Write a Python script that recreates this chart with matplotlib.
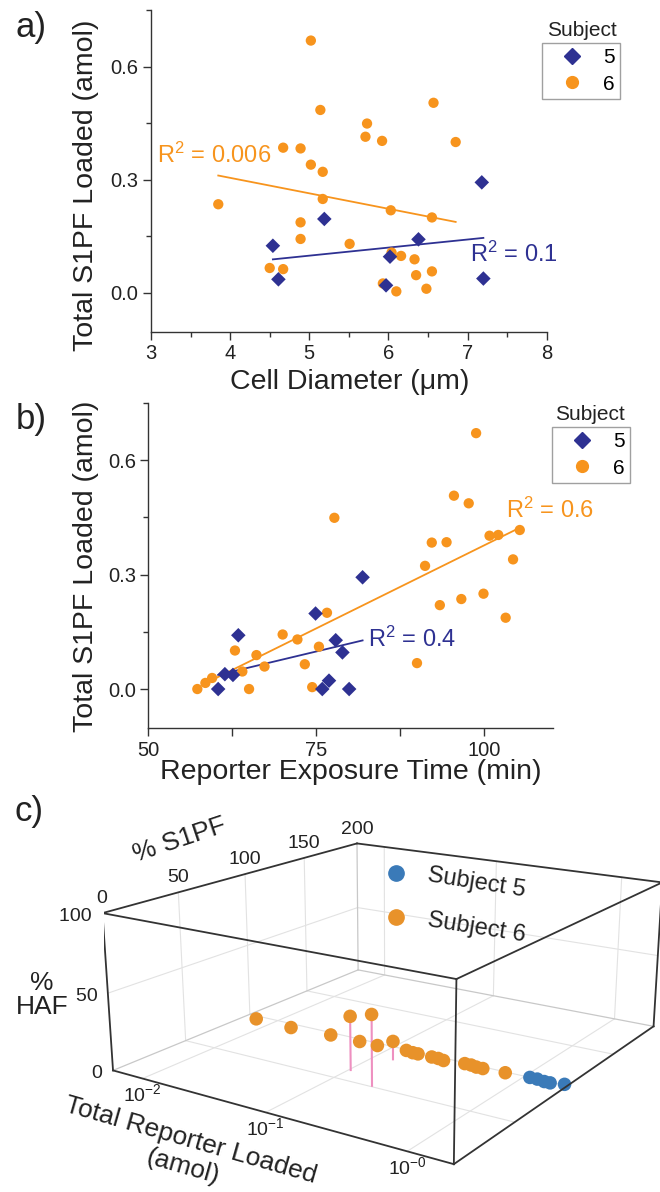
import numpy as np
import matplotlib
matplotlib.use('Agg')
import matplotlib.pyplot as plt
from matplotlib.lines import Line2D
from matplotlib.ticker import MultipleLocator
from mpl_toolkits.mplot3d import proj3d

plt.rcParams['font.family'] = ['Liberation Sans', 'DejaVu Sans']
plt.rcParams['mathtext.fontset'] = 'custom'
plt.rcParams['mathtext.rm'] = 'Liberation Sans'
plt.rcParams['mathtext.it'] = 'Liberation Sans:italic'
plt.rcParams['mathtext.default'] = 'regular'

orange = '#F7941D'
navy = '#2E3192'
blue_c = '#3A7AB8'
orange_c = '#E8922A'
stem_c = '#EE90C0'

## panel a: cell diameter (um) vs total S1PF loaded (amol)
diam_s5 = [4.54, 4.61, 5.19, 6.02, 5.97, 6.38, 7.18, 7.20]
s1pf_a_s5 = [0.125, 0.036, 0.196, 0.096, 0.020, 0.142, 0.293, 0.038]
diam_s6 = [5.02, 5.14, 5.73, 5.71, 5.92, 6.57, 6.85, 4.67, 4.89, 5.02, 5.17, 3.85, 5.17, 6.03,
           6.55, 4.89, 4.89, 5.51, 6.04, 6.16, 6.33, 4.50, 4.67, 6.35, 6.55, 5.93, 6.10, 6.48]
s1pf_a_s6 = [0.669, 0.485, 0.449, 0.414, 0.403, 0.504, 0.400, 0.385, 0.383, 0.340, 0.321, 0.235, 0.249, 0.219,
             0.200, 0.187, 0.143, 0.130, 0.107, 0.098, 0.089, 0.066, 0.063, 0.047, 0.057, 0.025, 0.004, 0.011]
# linear fits (slope, intercept) and their x ranges
fit_a_s5 = [0.0214, -0.0083]
fit_a_s5_x = [4.54, 7.20]
fit_a_s6 = [-0.041, 0.469]
fit_a_s6_x = [3.85, 6.85]
r2_a = ['R$^2$ = 0.1', 'R$^2$ = 0.006']

## panel b: reporter exposure time (min) vs total S1PF loaded (amol)
time_s5 = [63.4, 61.4, 62.6, 60.4, 74.9, 77.9, 78.9, 76.9, 75.9, 79.9, 81.9]
s1pf_b_s5 = [0.141, 0.039, 0.037, 0.000, 0.198, 0.128, 0.096, 0.022, 0.0, 0.0, 0.293]
time_s6 = [98.8, 95.5, 97.7, 77.7, 105.3, 100.8, 102.1, 92.2, 94.4, 91.2, 104.3, 99.9, 96.6, 93.4, 103.2,
           76.6, 70.0, 72.2, 75.4, 62.9, 66.1, 67.3, 73.3, 90.0, 64.0, 59.5, 58.5, 57.3, 65.0, 74.4]
s1pf_b_s6 = [0.671, 0.507, 0.487, 0.449, 0.417, 0.402, 0.404, 0.384, 0.385, 0.323, 0.340, 0.250, 0.236, 0.220, 0.187,
             0.200, 0.143, 0.130, 0.111, 0.101, 0.089, 0.059, 0.065, 0.068, 0.046, 0.029, 0.016, 0.000, 0.000, 0.005]
fit_b_s5 = [0.004206, -0.217]
fit_b_s5_x = [60.4, 81.9]
fit_b_s6 = [0.008714, -0.4946]
fit_b_s6_x = [60.0, 105.3]
r2_b = ['R$^2$ = 0.4', 'R$^2$ = 0.6']

## panel c: total reporter loaded (amol), % S1PF, % HAF
rep_s5 = [1.09, 1.23, 1.40, 1.54, 1.88]
pct_s1pf_s5 = [100, 100, 99, 99, 101]
pct_haf_s5 = [0, 0, 0, 0, 0]
rep_s6 = [0.0070, 0.0149, 0.0317, 0.103, 0.192, 0.135, 0.0558, 0.0783, 0.129, 0.148, 0.163, 0.209,
          0.235, 0.263, 0.368, 0.411, 0.458, 0.512, 0.736]
pct_s1pf_s6 = [96, 95, 97, 62, 51, 85, 97, 97, 99, 98, 98, 98, 98, 97, 99, 99, 98, 98, 99]
pct_haf_s6 = [0, 0, 0, 35, 45, 12, 0, 0, 0, 0, 0, 0, 0, 0, 0, 0, 0, 0, 0]
subjects_c = ['Subject 5', 'Subject 6']


fig = plt.figure(figsize=(6.6, 11.92), dpi=100)
fig.patch.set_facecolor('white')


def scatter_panel(ax, x5, y5, x6, y6, f5, f5x, f6, f6x):
	ax.scatter(x6, y6, s=55, marker='o', color=orange, edgecolors='none', zorder=3)
	ax.scatter(x5, y5, s=55, marker='D', color=navy, edgecolors='none', zorder=4)
	xx = np.array(f6x)
	ax.plot(xx, f6[0]*xx + f6[1], color=orange, lw=1.3, zorder=2)
	xx = np.array(f5x)
	ax.plot(xx, f5[0]*xx + f5[1], color=navy, lw=1.3, zorder=2)
	ax.spines['top'].set_visible(False)
	ax.spines['right'].set_visible(False)
	for s in ['left', 'bottom']:
		ax.spines[s].set_linewidth(1.0)
		ax.spines[s].set_color('#333333')
	ax.set_ylim(-0.103, 0.75)
	ax.set_yticks([0.0, 0.3, 0.6])
	ax.set_yticklabels(['0.0', '0.3', '0.6'])
	ax.yaxis.set_minor_locator(MultipleLocator(0.15))
	ax.tick_params(which='major', direction='out', length=6, width=1, labelsize=14.5, colors='#333333', pad=3)
	ax.tick_params(which='minor', direction='out', length=3.5, width=1, colors='#333333')
	for lab in ax.get_xticklabels() + ax.get_yticklabels():
		lab.set_color('#222222')
	h5 = Line2D([], [], ls='', marker='D', color=navy, ms=8)
	h6 = Line2D([], [], ls='', marker='o', color=orange, ms=8.5)
	leg = ax.legend([h5, h6], ['5', '6'], loc='upper left', bbox_to_anchor=(1.0, 0.0), frameon=True,
	                fancybox=False, fontsize=15, handlelength=2.4, handletextpad=0.3, borderpad=0.25,
	                labelspacing=0.35, borderaxespad=0)
	leg.get_frame().set_edgecolor('#888888')
	leg.get_frame().set_linewidth(1.0)
	return leg


## panel a
axa = fig.add_axes([0.2288, 0.7217, 0.5995, 0.2699])
lega = scatter_panel(axa, diam_s5, s1pf_a_s5, diam_s6, s1pf_a_s6, fit_a_s5, fit_a_s5_x, fit_a_s6, fit_a_s6_x)
axa.set_xlim(3, 8)
axa.xaxis.set_major_locator(MultipleLocator(1))
axa.xaxis.set_minor_locator(MultipleLocator(0.5))
lega.set_bbox_to_anchor((541.7/660, 1 - 43/1192), transform=fig.transFigure)
axa.text(3.076, 0.344, r2_a[1], color=orange, fontsize=17, ha='left', va='baseline')
axa.text(7.03, 0.082, r2_a[0], color=navy, fontsize=17, ha='left', va='baseline')
fig.text(582/660, 1 - 30/1192, 'Subject', fontsize=15, ha='center', va='center', color='#222222')
fig.text(86/660, 1 - 185/1192, 'Total S1PF Loaded (amol)', rotation=90, fontsize=20.5, ha='center', va='center', color='#222222')
fig.text(349.5/660, 1 - 381.7/1192, 'Cell Diameter (\u03bcm)', fontsize=20.5, ha='center', va='center', color='#222222')
fig.text(31/660, 1 - 28/1192, 'a)', fontsize=25, ha='center', va='center', color='#222222')

## panel b
axb = fig.add_axes([0.2247, 0.389, 0.6127, 0.2729])
legb = scatter_panel(axb, time_s5, s1pf_b_s5, time_s6, s1pf_b_s6, fit_b_s5, fit_b_s5_x, fit_b_s6, fit_b_s6_x)
axb.set_xlim(50, 110.2)
axb.set_xticks([50, 75, 100])
axb.xaxis.set_minor_locator(MultipleLocator(12.5))
axb.tick_params(axis='x', which='minor', length=6)
legb.set_bbox_to_anchor((552/660, 1 - 427/1192), transform=fig.transFigure)
axb.text(82.74, 0.111, r2_b[0], color=navy, fontsize=17, ha='left', va='baseline')
axb.text(103.3, 0.449, r2_b[1], color=orange, fontsize=17, ha='left', va='baseline')
fig.text(590/660, 1 - 414/1192, 'Subject', fontsize=15, ha='center', va='center', color='#222222')
fig.text(86/660, 1 - 566/1192, 'Total S1PF Loaded (amol)', rotation=90, fontsize=20.5, ha='center', va='center', color='#222222')
fig.text(350.8/660, 1 - 771.7/1192, 'Reporter Exposure Time (min)', fontsize=20.5, ha='center', va='center', color='#222222')
fig.text(31/660, 1 - 420/1192, 'b)', fontsize=25, ha='center', va='center', color='#222222')

## panel c (3D)
axc = fig.add_axes([0.1581, -0.0616, 0.8613, 0.477], projection='3d', computed_zorder=False)
axc.patch.set_visible(False)
axc.set_axis_off()
axc.set_proj_type('persp', focal_length=0.42)
axc.view_init(elev=16.6, azim=-56.5)
axc.set_box_aspect((2.2135, 2.3715, 0.9016))
xlim_c = (-2.26, 0.30)
ylim_c = (0, 200)
zlim_c = (0, 100)
axc.set_xlim(xlim_c)
axc.set_ylim(ylim_c)
axc.set_zlim(zlim_c)
x0, x1 = xlim_c
y0, y1 = ylim_c
z0, z1 = zlim_c
xt_c = [-2, -1, 0]
yt_c = [0, 50, 100, 150, 200]
zt_c = [0, 50, 100]

grid_kw = dict(color='#E2E2E2', lw=0.8, zorder=1)
for xt in xt_c:
	axc.plot([xt, xt], [y0, y1], [z0, z0], **grid_kw)
	axc.plot([xt, xt], [y1, y1], [z0, z1], **grid_kw)
for yt in yt_c[1:-1]:
	axc.plot([x0, x1], [yt, yt], [z0, z0], **grid_kw)
	axc.plot([x0, x0], [yt, yt], [z0, z1], **grid_kw)
for zt in zt_c[1:-1]:
	axc.plot([x0, x0], [y0, y1], [zt, zt], **grid_kw)
	axc.plot([x0, x1], [y1, y1], [zt, zt], **grid_kw)

back_edges = [([x0, x0], [y1, y1], [z0, z1]), ([x0, x0], [y0, y1], [z0, z0]), ([x0, x1], [y1, y1], [z0, z0])]
for ex, ey, ez in back_edges:
	axc.plot(ex, ey, ez, color='#C8C8C8', lw=0.9, zorder=2)

for lx, y, h in zip(np.log10(rep_s6), pct_s1pf_s6, pct_haf_s6):
	if h > 0:
		axc.plot([lx, lx], [y, y], [0, h], color=stem_c, lw=1.5, zorder=3)
axc.scatter(np.log10(rep_s6), pct_s1pf_s6, pct_haf_s6, s=95, color=orange_c, edgecolors='none', depthshade=False, zorder=4)
axc.scatter(np.log10(rep_s5), pct_s1pf_s5, pct_haf_s5, s=95, color=blue_c, edgecolors='none', depthshade=False, zorder=4)

front_edges = [([x0, x0], [y0, y0], [z0, z1]), ([x1, x1], [y0, y0], [z0, z1]), ([x1, x1], [y1, y1], [z0, z1]),
               ([x0, x1], [y0, y0], [z0, z0]), ([x1, x1], [y0, y1], [z0, z0]),
               ([x0, x1], [y0, y0], [z1, z1]), ([x0, x0], [y0, y1], [z1, z1]),
               ([x1, x1], [y0, y1], [z1, z1]), ([x0, x1], [y1, y1], [z1, z1])]
for ex, ey, ez in front_edges:
	axc.plot(ex, ey, ez, color='#333333', lw=1.3, zorder=5)

## tick labels: project the 3D anchor through the axes' own projection, then place as 2D text
M = axc.get_proj()


def label3d(x, y, z, s, **kw):
	px, py, _ = proj3d.proj_transform(x, y, z, M)
	axc.text2D(px, py, s, transform=axc.transData, fontsize=14, color='#222222', **kw)


for xt in xt_c:
	label3d(xt, y0, z0 - 3, '10$^{%d}$' % xt if xt != 0 else '10$^{-0}$', ha='center', va='top')
for zt in zt_c:
	label3d(x0, y0, zt - 2, '%d  ' % zt, ha='right', va='center')
for yt in yt_c:
	label3d(x0, yt, z1 + 4, '%d' % yt, ha='center', va='bottom')

fig.text(180/660, 1 - 840/1192, '% S1PF', fontsize=19, rotation=18.5, ha='center', va='center', color='#222222')
fig.text(42/660, 1 - 995/1192, '%\nHAF', fontsize=19, ha='center', va='center', color='#222222', linespacing=1.0)
fig.text(191/660, 1 - 1140/1192, 'Total Reporter Loaded', fontsize=19, rotation=-16, ha='center',
         va='center', color='#222222')
fig.text(183/660, 1 - 1167/1192, '(amol)', fontsize=19, rotation=-16, ha='center', va='center', color='#222222')
fig.text(29/660, 1 - 812/1192, 'c)', fontsize=25, ha='center', va='center', color='#222222')

hc = [Line2D([], [], ls='', marker='o', color=blue_c, ms=11), Line2D([], [], ls='', marker='o', color=orange_c, ms=11)]
legc = axc.legend(hc, subjects_c, loc='center', bbox_to_anchor=(456/660, 1 - 890/1192), bbox_transform=fig.transFigure,
                  frameon=False, fontsize=17, handlelength=1.0, handletextpad=0.8, labelspacing=0.3)
for t in legc.get_texts():
	t.set_rotation(-9)
	t.set_rotation_mode('anchor')
	t.set_color('#222222')

fig.savefig('out.png', dpi=100, facecolor='white')
